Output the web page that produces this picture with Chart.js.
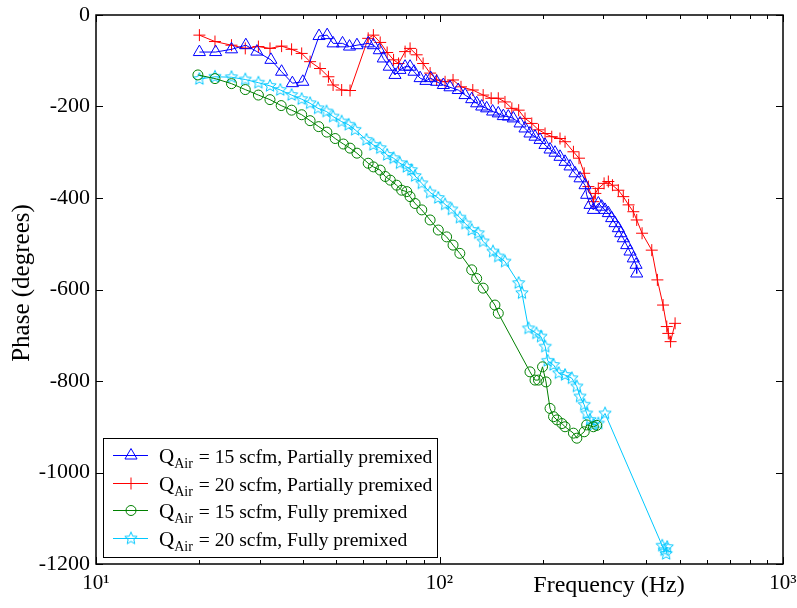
<!DOCTYPE html>
<html>
<head>
<meta charset="utf-8">
<script src="https://cdn.jsdelivr.net/npm/chart.js@4.4.1/dist/chart.umd.min.js"></script>
<style>
html,body{margin:0;padding:0;background:#fff;}
#wrap{width:797px;height:608px;}
</style>
</head>
<body>
<div id="wrap"><canvas id="chart" width="797" height="608"></canvas></div>
<script>
// phase vs frequency
const blueFreq=[20,22.3,24.8,27.3,29.4,32.3,34.7,37.3,40,44.6,47.1,49,52.2,54.7,57.5,62,64.2,66.8,68.6,71.4,74.2,76.7,79.4,82.1,84.3,87.8,91.3,94.3,98.1,102.6,107.3,113.4,118.7,124.1,128.3,132.7,137.2,142.8,148.3,153.4,158.6,164,171.6,177.4,183.4,189.7,196.2,202.8,209.8,216.9,224.3,232,239.9,248,256.5,265.3,268.2,274.3,280.5,290,296.6,303.3,310.1,317.1,324.3,331.6,337,342.8,350.8,358.6,366.6,373.4,375.1];
const bluePhase=[-81,-81,-75,-66,-80,-98,-124,-149,-146,-46,-44,-62,-62,-69,-66,-62,-66,-77,-95,-113,-131,-120,-113,-113,-124,-138,-144,-138,-146,-153,-158,-164,-175,-184,-193,-200,-204,-211,-215,-221,-222,-226,-237,-248,-259,-266,-273,-284,-294,-301,-310,-321,-331,-346,-357,-372,-393,-415,-426,-412,-419,-426,-433,-444,-455,-466,-477,-488,-503,-517,-532,-546,-565];

const redFreq=[20,22.2,24.8,27.2,29.7,32.1,34.7,37.1,39.7,42,44.9,47.5,49,51.9,54.9,62,64.2,67.2,70.4,73.5,76,79.4,82.1,85.8,89.6,93.9,98.1,103.8,109.5,115.5,125,134,141.4,148.3,155.1,162.4,170,177.4,185.6,194.2,202.9,212.2,224.3,232,245.4,254.8,263.8,271.3,280.5,284.3,289.9,301.4,310.1,318.8,331.6,342.8,355.2,366.6,375.1,388.8,414.9,430.8,447.5,458.8,463.6,470.7,485.1];
const redPhase=[-44,-58,-66,-73,-69,-73,-68,-75,-84,-102,-117,-135,-153,-164,-165,-51,-44,-60,-82,-98,-106,-80,-73,-87,-106,-127,-142,-146,-142,-157,-164,-175,-182,-182,-190,-204,-208,-226,-237,-251,-259,-266,-270,-277,-299,-313,-346,-375,-408,-390,-379,-368,-364,-372,-383,-397,-415,-430,-448,-477,-514,-579,-634,-681,-696,-714,-674];

const greenFreq=[19.8,22.2,24.8,27.2,29.7,32.1,34.6,37.1,39.7,42,44.5,47,49.7,52.5,54.9,57.5,62,64.2,67.2,69.5,71.9,75,77.6,80.3,82.1,84.9,88.8,93.9,99.2,104.9,109.5,114.6,124.1,128.3,134,145,148.3,183.4,189.7,194.2,199.5,204.2,209.8,214.8,219.8,227.2,232,245.4,251.1,263.8,268.2,280.5,287];
const greenPhase=[-131,-139,-150,-163,-175,-185,-198,-208,-218,-231,-244,-256,-270,-282,-291,-302,-324,-332,-339,-353,-361,-372,-383,-386,-397,-412,-426,-448,-470,-485,-503,-521,-557,-576,-597,-634,-652,-780,-798,-798,-769,-802,-860,-878,-885,-893,-900,-914,-925,-911,-896,-900,-897];

const cyanFreq=[20,22.2,24.8,27.2,29.7,32.1,34.4,37.1,39.7,42,44.3,46.9,49,51.9,54.4,56.8,61.3,64.2,67.2,70.4,73.5,76.7,80.3,82.8,84.9,88.8,93.9,99.2,103.8,108.6,114.6,119,124.1,129.7,134,143.1,148.3,155.1,170,173.8,181.6,191.5,197.4,203.2,206.5,214.8,222.5,232,242.8,251.1,256.5,263.8,268.2,274.3,280.5,290,303.3,445,452,460,457];
const cyanPhase=[-140,-135,-136,-141,-148,-155,-164,-175,-184,-193,-204,-211,-222,-233,-240,-251,-273,-284,-291,-306,-313,-324,-332,-339,-352,-368,-388,-400,-414,-425,-443,-456,-470,-477,-495,-517,-528,-539,-586,-608,-685,-696,-703,-725,-756,-765,-783,-787,-794,-812,-834,-852,-871,-885,-896,-893,-871,-1160,-1170,-1163,-1178];

const seriesNames=['15 scfm, Partially premixed','20 scfm, Partially premixed','15 scfm, Fully premixed','20 scfm, Fully premixed'];
const xTicks=[10,20,30,40,50,60,70,80,90,100,200,300,400,500,600,700,800,900,1000];
const xTickLabels={10:'10\u00b9',100:'10\u00b2',1000:'10\u00b3'};

const colors=['#0000ff','#ff0000','#008000','#00c8ff'];
const FONT='"Liberation Serif", "Times New Roman", serif';

function pts(f,p){return f.map((v,i)=>({x:v,y:p[i]}));}

function makeStar(color,r){
  const s=Math.ceil(r*2+3);
  const c=document.createElement('canvas');
  c.width=s;c.height=s;
  const g=c.getContext('2d');
  g.strokeStyle=color;g.lineWidth=1;
  g.beginPath();
  for(let i=0;i<10;i++){
    const a=-Math.PI/2+i*Math.PI/5;
    const rr=i%2?r*0.45:r;
    g.lineTo(s/2+rr*Math.cos(a),s/2+rr*Math.sin(a));
  }
  g.closePath();g.stroke();
  return c;
}
const starImg=makeStar(colors[3],6.5);

function ds(label,data,color,style,radius){
  return {label,data,borderColor:color,backgroundColor:'transparent',borderWidth:1,
    pointStyle:style,pointRadius:radius,pointHoverRadius:radius,pointBorderColor:color,
    pointBackgroundColor:'transparent',pointBorderWidth:1,tension:0,fill:false};
}

// frame, inward ticks, axis titles and legend
const deco={
  id:'deco',
  afterDraw(chart){
    const ctx=chart.ctx, a=chart.chartArea, xs=chart.scales.x, ys=chart.scales.y;
    ctx.save();
    ctx.strokeStyle='#000';ctx.lineWidth=1.5;
    ctx.strokeRect(a.left,a.top,a.right-a.left,a.bottom-a.top);
    ctx.lineWidth=1;
    ctx.beginPath();
    xTicks.forEach(v=>{
      const x=Math.round(xs.getPixelForValue(v))+0.5;
      const len=xTickLabels[v]?7:4;
      ctx.moveTo(x,a.bottom);ctx.lineTo(x,a.bottom-len);
      ctx.moveTo(x,a.top);ctx.lineTo(x,a.top+len);
    });
    ys.ticks.forEach(t=>{
      const y=Math.round(ys.getPixelForValue(t.value))+0.5;
      ctx.moveTo(a.left,y);ctx.lineTo(a.left+7,y);
      ctx.moveTo(a.right,y);ctx.lineTo(a.right-7,y);
    });
    ctx.stroke();

    ctx.fillStyle='#000';
    ctx.textAlign='center';ctx.textBaseline='middle';
    ctx.font='24px '+FONT;
    ctx.fillText('Frequency (Hz)',609,586);
    ctx.save();
    ctx.translate(22,283);ctx.rotate(-Math.PI/2);
    ctx.font='25px '+FONT;
    ctx.fillText('Phase (degrees)',0,0);
    ctx.restore();

    // legend
    const bx=103,by=438,bw=334,bh=119;
    ctx.fillStyle='#fff';ctx.fillRect(bx,by,bw,bh);
    ctx.strokeStyle='#000';ctx.lineWidth=1;
    ctx.strokeRect(bx+0.5,by+0.5,bw,bh);
    chart.data.datasets.forEach((d,i)=>{
      const y=Math.round(455+i*27.7)+0.5;
      ctx.strokeStyle=d.borderColor;ctx.lineWidth=1;
      ctx.beginPath();ctx.moveTo(113,y);ctx.lineTo(148,y);ctx.stroke();
      const cx=131;
      ctx.beginPath();
      if(i===0){
        const r=7;
        ctx.moveTo(cx,y-r);ctx.lineTo(cx+r*Math.sin(Math.PI*2/3),y+r/2);ctx.lineTo(cx-r*Math.sin(Math.PI*2/3),y+r/2);ctx.closePath();
        ctx.stroke();
      }else if(i===1){
        ctx.moveTo(cx-6,y);ctx.lineTo(cx+6,y);ctx.moveTo(cx,y-6);ctx.lineTo(cx,y+6);ctx.stroke();
      }else if(i===2){
        ctx.arc(cx,y,5,0,Math.PI*2);ctx.stroke();
      }else{
        ctx.drawImage(starImg,cx-starImg.width/2,y-starImg.height/2);
      }
      ctx.fillStyle='#000';ctx.textAlign='left';ctx.textBaseline='alphabetic';
      ctx.font='21px '+FONT;
      ctx.fillText('Q',159,y+7);
      let w=ctx.measureText('Q').width;
      ctx.font='14px '+FONT;
      ctx.fillText('Air',159+w,y+12);
      w+=ctx.measureText('Air').width;
      ctx.font='19.6px '+FONT;
      ctx.fillText(' = '+seriesNames[i],159+w+1,y+7);
    });
    ctx.restore();
  }
};

const chart=new Chart(document.getElementById('chart'),{
  type:'line',
  data:{datasets:[
    ds(seriesNames[0],pts(blueFreq,bluePhase),colors[0],'triangle',7),
    ds(seriesNames[1],pts(redFreq,redPhase),colors[1],'cross',6),
    ds(seriesNames[2],pts(greenFreq,greenPhase),colors[2],'circle',5),
    ds(seriesNames[3],pts(cyanFreq,cyanPhase),colors[3],starImg,6)
  ]},
  options:{
    responsive:false,animation:false,devicePixelRatio:1,
    layout:{padding:{top:15,right:14,left:0,bottom:0}},
    plugins:{legend:{display:false},tooltip:{enabled:false}},
    scales:{
      x:{type:'logarithmic',min:10,max:1000,
        afterBuildTicks(s){s.ticks=xTicks.map(v=>({value:v}));},
        afterFit(s){s.height=44;s.paddingLeft=0;s.paddingRight=0;},
        grid:{display:false,drawTicks:false},border:{display:false},
        ticks:{autoSkip:false,maxRotation:0,padding:7,color:'#000',font:{family:FONT,size:21},
          callback:v=>xTickLabels[v]||''}},
      y:{min:-1200,max:0,
        afterFit(s){s.width=96;s.paddingTop=0;s.paddingBottom=0;},
        grid:{display:false,drawTicks:false},border:{display:false},
        ticks:{stepSize:200,padding:6,color:'#000',font:{family:FONT,size:22},
          callback:v=>String(v)}}
    }
  },
  plugins:[deco]
});
</script>
</body>
</html>
